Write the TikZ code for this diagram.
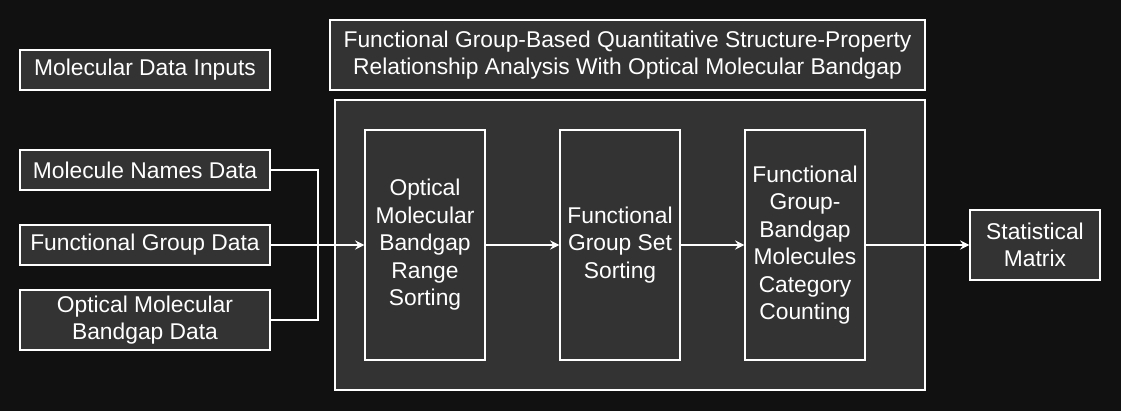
\documentclass[tikz,border=0pt]{standalone}
\usepackage{fontspec}
\setmainfont{Liberation Sans}
\usetikzlibrary{arrows.meta}
\definecolor{bg}{HTML}{111111}
\definecolor{boxfill}{HTML}{333333}
\begin{document}
\begin{tikzpicture}[x=0.75pt,y=-0.75pt,
  box/.style={draw=white,fill=boxfill,line width=1pt,text=white,align=center,
    inner sep=0pt,font=\fontsize{17.1}{20.6}\selectfont},
  conn/.style={draw=white,line width=1pt},
  arr/.style={conn,-{Stealth[length=7pt,width=7pt,inset=2.5pt]}}]
\fill[bg] (0,0) rectangle (1121,411);
\useasboundingbox (0,0) rectangle (1121,411);
\node[box,minimum width=187.5pt,minimum height=30pt] (inputs) at (145,70) {Molecular Data Inputs};
\node[box,minimum width=446.25pt,minimum height=52.5pt] (title) at (627.5,55) {Functional Group-Based Quantitative Structure-Property\\Relationship Analysis With Optical Molecular Bandgap};
\node[box,minimum width=442.5pt,minimum height=217.5pt] (container) at (630,245) {};
\node[box,minimum width=187.5pt,minimum height=30pt] (names) at (145,170) {Molecule Names Data};
\node[box,minimum width=187.5pt,minimum height=30pt] (fg) at (145,245) {Functional Group Data};
\node[box,minimum width=187.5pt,minimum height=45pt] (opt) at (145,320) {Optical Molecular\\Bandgap Data};
\node[box,minimum width=90pt,minimum height=172.5pt] (s1) at (425,245) {Optical\\Molecular\\Bandgap\\Range\\Sorting};
\node[box,minimum width=90pt,minimum height=172.5pt] (s2) at (620,245) {Functional\\Group Set\\Sorting};
\node[box,minimum width=90pt,minimum height=172.5pt] (s3) at (805,245) {Functional\\Group-\\Bandgap\\Molecules\\Category\\Counting};
\node[box,minimum width=97.5pt,minimum height=52.5pt] (stat) at (1035,245) {Statistical\\Matrix};
\coordinate (j) at (318,245);
\draw[conn] (names.east) -| (j);
\draw[conn] (opt.east) -| (j);
\draw[arr] (fg.east) -- (s1.west);
\draw[arr] (s1.east) -- (s2.west);
\draw[arr] (s2.east) -- (s3.west);
\draw[arr] (s3.east) -- (stat.west);
\end{tikzpicture}
\end{document}
